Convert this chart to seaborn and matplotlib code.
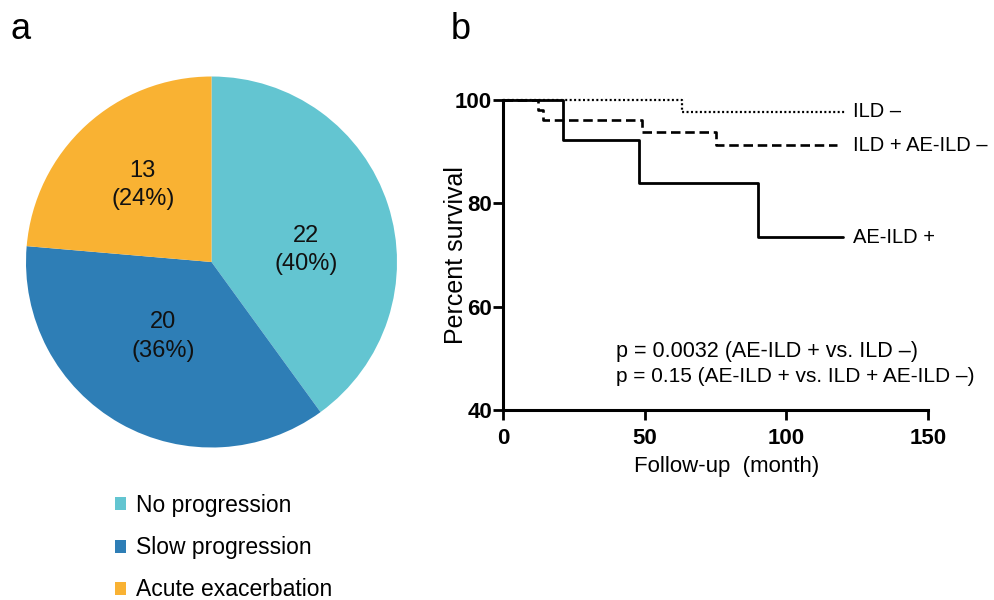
import numpy as np
import pandas as pd
import matplotlib
matplotlib.use("Agg")
import matplotlib.pyplot as plt
from matplotlib.patches import Patch
import seaborn as sns

# ---------------- data ----------------
pie_categories = ["No progression", "Slow progression", "Acute exacerbation"]
pie_counts = [22, 20, 13]
pie_colors = ["#63C5D1", "#2E7EB6", "#F9B233"]

ild_neg_time = [0, 63, 121]
ild_neg_surv = [100, 97.7, 97.7]

ild_pos_ae_neg_time = [0, 12.5, 14, 49, 75, 118]
ild_pos_ae_neg_surv = [100, 98.1, 96.1, 93.8, 91.2, 91.2]

ae_ild_pos_time = [0, 21, 48, 90, 120]
ae_ild_pos_surv = [100, 92.3, 84.0, 73.4, 73.4]

curve_names = ["ILD –", "ILD + AE-ILD –", "AE-ILD +"]
x_ticks = [0, 50, 100, 150]
y_ticks = [40, 60, 80, 100]
p_texts = ["p = 0.0032 (AE-ILD + vs. ILD –)",
           "p = 0.15 (AE-ILD + vs. ILD + AE-ILD –)"]

# ---------------- style ----------------
sns.set_style("ticks")
plt.rcParams["font.family"] = ["Liberation Sans", "DejaVu Sans"]
plt.rcParams["axes.unicode_minus"] = False
plt.rcParams["text.color"] = "black"
plt.rcParams["axes.labelcolor"] = "black"

fig = plt.figure(figsize=(9.95, 6.0), dpi=100)

# ---------------- panel a: pie ----------------
ax_pie = fig.add_axes([26 / 995, 1 - 447.5 / 600, 371 / 995, 371 / 600])
ax_pie.pie(pie_counts, colors=pie_colors, startangle=90, counterclock=False,
           radius=1.0, wedgeprops=dict(linewidth=0))
ax_pie.set_xlim(-1, 1)
ax_pie.set_ylim(-1, 1)
ax_pie.set_aspect("equal")
ax_pie.axis("off")

total = sum(pie_counts)
label_pos = [(0.51, 0.065), (-0.26, -0.40), (-0.37, 0.415)]
for cnt, (lx, ly) in zip(pie_counts, label_pos):
    ax_pie.text(lx, ly, f"{cnt}\n({cnt / total * 100:.0f}%)", ha="center",
                va="center", fontsize=17, color="#111111", linespacing=1.4)

handles = [Patch(facecolor=c, edgecolor="none") for c in pie_colors]
fig.legend(handles, pie_categories, loc="upper left",
           bbox_to_anchor=(115 / 995, 1 - 494 / 600), frameon=False,
           fontsize=16.5, handlelength=0.5, handleheight=0.5, handletextpad=0.4,
           labelspacing=0.84, borderpad=0, borderaxespad=0)

fig.text(11 / 995, 1 - 39 / 600, "a", fontsize=26, va="baseline", ha="left")
fig.text(451 / 995, 1 - 39 / 600, "b", fontsize=26, va="baseline", ha="left")

# ---------------- panel b: survival ----------------
ax = fig.add_axes([503 / 995, 1 - 410 / 600, 425 / 995, 310 / 600])

curves = [
    (ild_neg_time, ild_neg_surv, (0, (0.9, 1.1)), 1.6),
    (ild_pos_ae_neg_time, ild_pos_ae_neg_surv, (0, (3.6, 1.8)), 1.9),
    (ae_ild_pos_time, ae_ild_pos_surv, "-", 2.0),
]
for name, (t, s, ls, lw) in zip(curve_names, curves):
    df = pd.DataFrame({"time": t, "surv": s})
    sns.lineplot(data=df, x="time", y="surv", ax=ax, estimator=None,
                 drawstyle="steps-post", color="black", linewidth=lw,
                 linestyle=ls, clip_on=False)
    ax.text(123.5, s[-1], name, fontsize=14.5, va="center", ha="left")

ax.text(40, 51.3, p_texts[0], fontsize=15.5, va="center", ha="left")
ax.text(40, 46.5, p_texts[1], fontsize=15, va="center", ha="left")

ax.set_xlim(0, 150)
ax.set_ylim(40, 100)
ax.set_xticks(x_ticks)
ax.set_yticks(y_ticks)
ax.set_xticklabels([str(v) for v in x_ticks], fontweight="bold", fontsize=16)
ax.set_yticklabels([str(v) for v in y_ticks], fontweight="bold", fontsize=16)
ax.tick_params(axis="both", direction="out", length=7, width=2,
               color="black", labelcolor="black")
ax.tick_params(axis="x", pad=6)
ax.tick_params(axis="y", pad=1)
for side in ["top", "right"]:
    ax.spines[side].set_visible(False)
for side in ["left", "bottom"]:
    ax.spines[side].set_linewidth(2.2)
    ax.spines[side].set_color("black")
ax.set_xlabel("Follow-up  (month)", fontsize=16)
ax.set_ylabel("Percent survival", fontsize=18)
ax.xaxis.set_label_coords(0.525, -0.148)
ax.yaxis.set_label_coords(-0.082, 0.5)
ax.patch.set_alpha(0)

fig.savefig("out.png", dpi=100, facecolor="white")
